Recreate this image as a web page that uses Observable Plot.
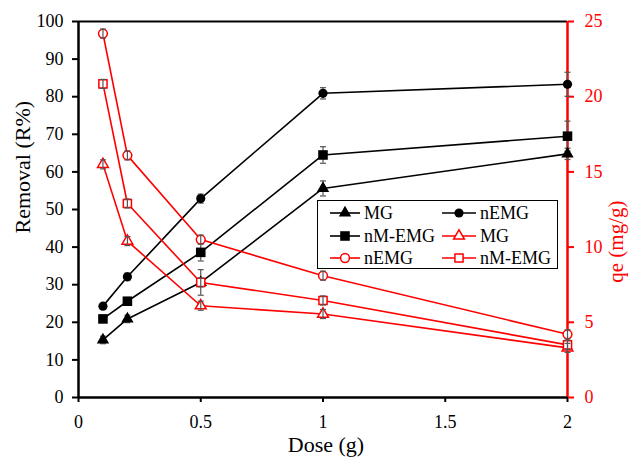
<!DOCTYPE html>
<html>
<head>
<meta charset="utf-8">
<script src="https://cdn.jsdelivr.net/npm/d3@7"></script>
<script src="https://cdn.jsdelivr.net/npm/@observablehq/plot@0.6"></script>
<style>
  html, body { margin: 0; padding: 0; background: #fff; }
  #wrap { position: relative; width: 630px; height: 457px; overflow: hidden; font-family: "Liberation Serif", "Times New Roman", Tinos, "DejaVu Serif", serif; }
  #legend { position: absolute; left: 317px; top: 200px; width: 241px; height: 69px; box-sizing: border-box; border: 1.5px solid #000; background: #fff; }
  .item { position: absolute; display: flex; align-items: center; font-size: 18px; line-height: 18px; }
  .item svg { display: block; margin-right: 4px; }
</style>
</head>
<body>
<div id="wrap"><div id="legend"></div></div>
<script>
// ---------- data ----------
const dose = [0.1, 0.2, 0.5, 1, 2];
const seriesNames = ["MG", "nEMG", "nM-EMG"];
const seriesSymbols = ["triangle", "circle", "square"];

// Removal (%) – left axis
const removalMG    = [15.3, 20.9, 30.6, 55.6, 64.8];
const removalNEMG  = [24.3, 32.1, 52.9, 80.9, 83.3];
const removalNMEMG = [20.9, 25.6, 38.6, 64.5, 69.5];
const removalErrMG    = [1.0, 1.0, 3.4, 2.0, 1.5];
const removalErrNEMG  = [0.5, 1.0, 1.2, 1.5, 3.2];
const removalErrNMEMG = [0.6, 1.0, 2.3, 2.2, 4.0];

// qe (mg/g) – right axis
const qeMG    = [15.5, 10.4, 6.1, 5.55, 3.3];
const qeNEMG  = [24.2, 16.1, 10.5, 8.1, 4.2];
const qeNMEMG = [20.85, 12.9, 7.65, 6.45, 3.5];
const qeErr   = [0.3, 0.3, 0.3, 0.3, 0.3];

const xTicks = [0, 0.5, 1, 1.5, 2];
const leftTicks = [0, 10, 20, 30, 40, 50, 60, 70, 80, 90, 100];
const rightTicks = [0, 5, 10, 15, 20, 25];
const leftMax = 100, rightMax = 25;

// ---------- build tables ----------
const removalVals = [removalMG, removalNEMG, removalNMEMG];
const removalErrs = [removalErrMG, removalErrNEMG, removalErrNMEMG];
const qeVals = [qeMG, qeNEMG, qeNMEMG];
const k = leftMax / rightMax;

const removal = [], qe = [];
seriesNames.forEach((name, i) => {
  dose.forEach((d, j) => {
    removal.push({series: name, sym: seriesSymbols[i], x: d, y: removalVals[i][j], e: removalErrs[i][j]});
    qe.push({series: name, sym: seriesSymbols[i], x: d, y: qeVals[i][j] * k, e: qeErr[j] * k});
  });
});

const FONT = "'Liberation Serif', 'Times New Roman', Tinos, 'DejaVu Serif', serif";
const cap = {draw(ctx, size) { const r = Math.sqrt(size / Math.PI); ctx.moveTo(-r, 0); ctx.lineTo(r, 0); }};
const symRFilled = {triangle: 4.6, circle: 4.6, square: 5.4};
const symRHollow = {triangle: 4.0, circle: 4.4, square: 4.6};
const errColor = "#555";

function seriesMarks(data, color, filled) {
  const out = [];
  out.push(Plot.line(data, {x: "x", y: "y", z: "series", stroke: color, strokeWidth: 1.6}));
  const errs = [
    Plot.ruleX(data, {x: "x", y1: d => d.y - d.e, y2: d => d.y + d.e, stroke: errColor, strokeWidth: 1.2}),
    Plot.dot(data, {x: "x", y: d => d.y - d.e, symbol: cap, r: 3, stroke: errColor, strokeWidth: 1.2}),
    Plot.dot(data, {x: "x", y: d => d.y + d.e, symbol: cap, r: 3, stroke: errColor, strokeWidth: 1.2})
  ];
  if (filled) out.push(...errs);
  const rr = filled ? symRFilled : symRHollow;
  for (const s of seriesSymbols) {
    const sub = data.filter(d => d.sym === s);
    out.push(Plot.dot(sub, {x: "x", y: "y", symbol: s, r: rr[s],
      fill: filled ? color : "white", stroke: color, strokeWidth: filled ? 0 : 1.5}));
  }
  if (!filled) out.push(...errs);
  return out;
}

const chart = Plot.plot({
  width: 630, height: 457,
  marginLeft: 78, marginRight: 63, marginTop: 21, marginBottom: 60,
  style: {fontFamily: FONT, fontSize: "18px", background: "white", overflow: "visible"},
  x: {domain: [0, 2]},
  y: {domain: [0, leftMax]},
  marks: [
    Plot.ruleY([leftMax], {stroke: "black", strokeWidth: 2}),
    Plot.axisX({ticks: xTicks, tickSize: 5, tickPadding: 13, tickFormat: d => String(d), label: null, strokeWidth: 2, fontSize: 18, color: "black", fontFamily: FONT}),
    Plot.axisY({anchor: "left", ticks: leftTicks, tickSize: 6, tickPadding: 9, label: null, strokeWidth: 2, fontSize: 18, color: "black", fontFamily: FONT}),
    Plot.axisY({anchor: "right", ticks: rightTicks.map(t => t * k), tickFormat: d => String(d / k), tickSize: 6, tickPadding: 11, label: null, strokeWidth: 2, fontSize: 18, color: "red", fontFamily: FONT}),
    Plot.ruleX([0], {stroke: "black", strokeWidth: 2.5}),
    Plot.ruleX([2], {stroke: "red", strokeWidth: 2.5}),
    Plot.ruleY([0], {stroke: "black", strokeWidth: 2.5}),
    ...seriesMarks(removal, "black", true),
    ...seriesMarks(qe, "red", false),
    Plot.text(["Removal (R%)"], {frameAnchor: "left", dx: -56, dy: 24, rotate: -90, fontSize: 22, fill: "black", fontFamily: FONT}),
    Plot.text(["qe (mg/g)"], {frameAnchor: "right", dx: 49, dy: -9, rotate: -90, fontSize: 21, fill: "red", fontFamily: FONT}),
    Plot.text(["Dose (g)"], {frameAnchor: "bottom", dx: 3, dy: 54, fontSize: 22, fill: "black", fontFamily: FONT})
  ]
});
document.getElementById("wrap").prepend(chart);

// ---------- legend ----------
const legendItems = [
  {label: seriesNames[0], sym: seriesSymbols[0], color: "black", filled: true},
  {label: seriesNames[1], sym: seriesSymbols[1], color: "black", filled: true},
  {label: seriesNames[2], sym: seriesSymbols[2], color: "black", filled: true},
  {label: seriesNames[0], sym: seriesSymbols[0], color: "red", filled: false},
  {label: seriesNames[1], sym: seriesSymbols[1], color: "red", filled: false},
  {label: seriesNames[2], sym: seriesSymbols[2], color: "red", filled: false}
];
const symType = {triangle: d3.symbolTriangle, circle: d3.symbolCircle, square: d3.symbolSquare};
const legend = document.getElementById("legend");
legendItems.forEach((it, i) => {
  const col = i % 2, row = Math.floor(i / 2);
  const div = document.createElement("div");
  div.className = "item";
  div.style.left = (col === 0 ? 12 : 124) + "px";
  div.style.top = (3 + row * 22.5) + "px";
  const w = col === 0 ? 30 : 34;
  const r = (it.filled ? symRFilled : symRHollow)[it.sym];
  const path = d3.symbol(symType[it.sym], Math.PI * r * r)();
  div.innerHTML = `<svg width="${w}" height="18"><line x1="0" x2="${w}" y1="9" y2="9" stroke="${it.color}" stroke-width="1.6"/>` +
    `<path transform="translate(${w / 2},9)" d="${path}" fill="${it.filled ? it.color : "white"}" stroke="${it.color}" stroke-width="${it.filled ? 0 : 1.5}"/></svg>` +
    `<span style="color:black">${it.label}</span>`;
  legend.appendChild(div);
});
</script>
</body>
</html>
